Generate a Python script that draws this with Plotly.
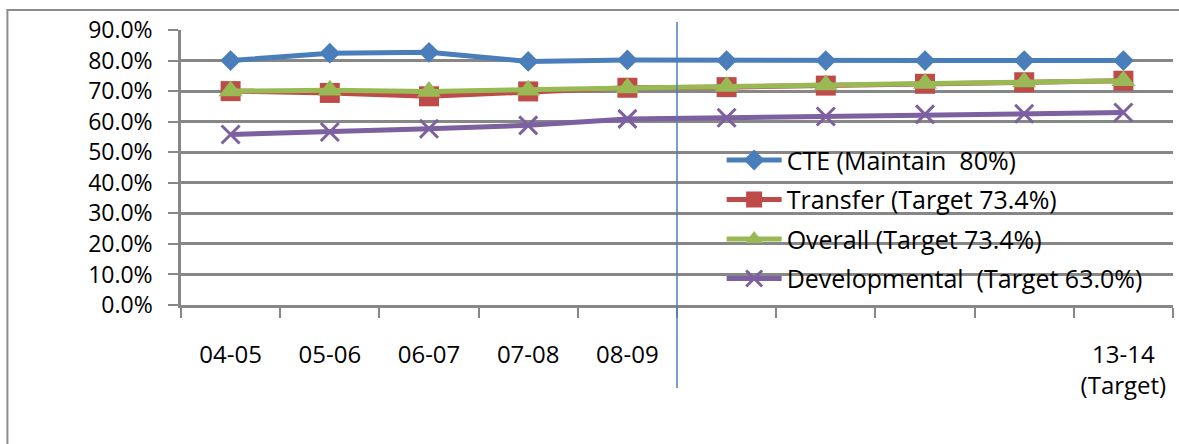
import plotly.graph_objects as go

# Academic years on the x axis; only some carry a printed label
years = ["04-05", "05-06", "06-07", "07-08", "08-09",
         "09-10", "10-11", "11-12", "12-13", "13-14"]
tick_labels = ["04-05", "05-06", "06-07", "07-08", "08-09",
               "", "", "", "", "13-14<br>(Target)"]

# Success rates (fraction of 1)
cte = [0.800, 0.824, 0.827, 0.797, 0.802, 0.800, 0.800, 0.800, 0.800, 0.800]
transfer = [0.700, 0.694, 0.683, 0.699, 0.711, 0.713, 0.718, 0.724, 0.729, 0.734]
overall = [0.700, 0.703, 0.699, 0.703, 0.710, 0.715, 0.720, 0.725, 0.730, 0.734]
developmental = [0.558, 0.566, 0.577, 0.588, 0.609, 0.613, 0.617, 0.624, 0.626, 0.630]

names = ["CTE (Maintain\u00a0 80%)", "Transfer (Target 73.4%)",
         "Overall (Target 73.4%)", "Developmental\u00a0 (Target 63.0%)"]

FONT = "Open Sans"
GRID = "#878787"
x = list(range(len(years)))

fig = go.Figure()

styles = [
    (cte, "#4A7EBB", dict(symbol="diamond", size=16)),
    (transfer, "#BE4B48", dict(symbol="square", size=20)),
    (overall, "#98B954", dict(symbol="triangle-up", size=21)),
    (developmental, "#7D60A0", dict(symbol="x-thin", size=18,
                                    line=dict(width=3, color="#7D60A0"))),
]
for i, (vals, color, mk) in enumerate(styles):
    fig.add_trace(go.Scatter(
        x=x, y=vals, name=names[i], mode="lines+markers",
        legendgroup=f"g{i}",
        line=dict(color=color, width=5),
        marker=dict(color=color, **mk),
        customdata=years,
        hovertemplate="%{customdata}: %{y:.1%}<extra>%{fullData.name}</extra>",
    ))

# Divider between actual years and projected years
fig.add_shape(type="line", xref="x", yref="paper",
              x0=4.5, x1=4.5, y0=-0.302, y1=1.029,
              line=dict(color="#4A7EBB", width=1.5), layer="above")

# Chart-area border
fig.add_shape(type="rect", xref="paper", yref="paper",
              x0=-0.175, x1=1.2, y0=-0.6, y1=1.073,
              line=dict(color="#8C8C8C", width=2), layer="below")

fig.update_layout(
    width=1179, height=444,
    margin=dict(l=181, r=6, t=30, b=139),
    paper_bgcolor="white", plot_bgcolor="white",
    font=dict(family=FONT, size=23, color="#000000"),
    showlegend=True,
    legend=dict(x=0.545, y=0.61, xanchor="left", yanchor="top",
                bgcolor="rgba(0,0,0,0)", tracegroupgap=4, itemwidth=55,
                font=dict(family=FONT, size=25, color="#000000")),
    xaxis=dict(
        range=[-0.5, 9.5], tickmode="array", tickvals=x, ticktext=tick_labels,
        ticks="", showgrid=False, zeroline=False,
        showline=True, linecolor=GRID, linewidth=2.5,
        ticklabelstandoff=26,
        minor=dict(tickmode="array", tickvals=[v - 0.5 for v in range(11)],
                   ticks="outside", ticklen=10, tickwidth=2, tickcolor=GRID,
                   showgrid=False),
        tickfont=dict(family=FONT, size=24, color="#000000"),
    ),
    yaxis=dict(
        range=[0, 0.9], dtick=0.1, tickformat=".1%",
        showgrid=True, gridcolor=GRID, gridwidth=2.5, zeroline=False,
        showline=True, linecolor=GRID, linewidth=2.5,
        ticks="outside", ticklen=10, tickwidth=2, tickcolor=GRID,
        ticklabelstandoff=11,
        tickfont=dict(family=FONT, size=23, color="#000000"),
    ),
)

fig.write_html("out.html")
